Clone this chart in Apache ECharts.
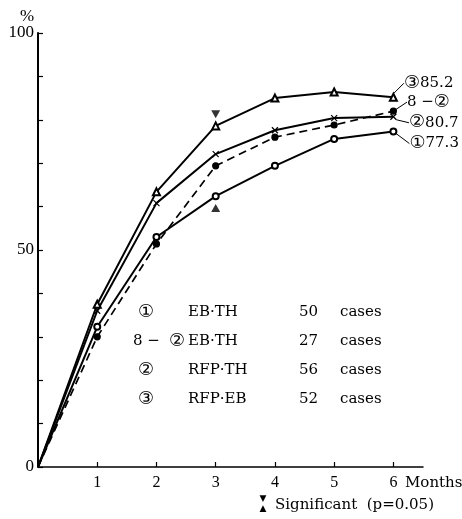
<!DOCTYPE html>
<html><head><meta charset="utf-8">
<script src="https://cdn.jsdelivr.net/npm/echarts@6/dist/echarts.min.js"></script>
<style>html,body{margin:0;padding:0;background:#fff}#c{width:462px;height:519px}</style>
</head><body><div id="c"></div>
<script>
// ---- data ----
const months = [0, 1, 2, 3, 4, 5, 6];
const rfpEB = [0, 37.5, 63.4, 78.6, 85.0, 86.4, 85.2];   // ③
const rfpTH = [0, 36.0, 60.8, 72.1, 77.6, 80.4, 80.7];   // ②
const eb8TH = [0, 30.0, 51.4, 69.4, 76.0, 78.8, 82.0];   // 8-②
const ebTH  = [0, 32.3, 53.0, 62.4, 69.4, 75.6, 77.3];   // ①
const sigAbove = [[3, 81.3]];
const sigBelow = [[3, 59.7]];
const xTickValues = [1, 2, 3, 4, 5, 6];
const yLabelValues = [0, 50, 100];
const legendMarks = ['①', '8 − ②', '②', '③'];
const legendNames = ['EB·TH', 'EB·TH', 'RFP·TH', 'RFP·EB'];
const legendCases = ['50', '27', '56', '52'];
const endMarks = ['①', '8 −②', '②', '③'];
const endValues = ['77.3', '', '80.7', '85.2'];

const SERIF = "'DejaVu Serif', 'Noto Sans CJK JP', serif";
const CIRC = "'DejaVu Serif', 'DejaVu Sans', serif";
const NUMF = "'Liberation Serif', 'DejaVu Serif', serif";

function endText(i) {
  const m = endMarks[i];
  if (m.length === 1) return '{c|' + m + '}{t|' + endValues[i] + '}';
  return '{t|8 −}{c|②}';
}

function mk(vals, idx, opts) {
  const data = months.map((m, i) => {
    if (i === 0) return { value: [m, vals[i]], symbol: 'none' };
    if (i === months.length - 1) {
      return { value: [m, vals[i]], label: { show: true, formatter: endText(idx) } };
    }
    return [m, vals[i]];
  });
  return Object.assign({
    type: 'line',
    data: data,
    symbolSize: 6,
    lineStyle: { color: '#000', width: 2 },
    itemStyle: { color: '#000', borderColor: '#000', borderWidth: 1.2 },
    label: {
      show: false, position: 'right', distance: 6, color: '#000',
      rich: {
        c: { fontFamily: CIRC, fontSize: 18, color: '#000' },
        t: { fontFamily: SERIF, fontSize: 15, color: '#000' }
      }
    },
    labelLine: { show: true, lineStyle: { color: '#000', width: 1 } },
    z: 3
  }, opts);
}

const chart = echarts.init(document.getElementById('c'));
const rows = [312, 341, 370, 399];
const graphics = [];
rows.forEach((y, i) => {
  if (i === 1) {
    graphics.push({ type: 'text', x: 133, y: y,
      style: { text: '8 −', font: '15px ' + SERIF, fill: '#000', align: 'left', verticalAlign: 'middle' } });
    graphics.push({ type: 'text', x: 177, y: y,
      style: { text: '②', font: '18px ' + CIRC, fill: '#000', align: 'center', verticalAlign: 'middle' } });
  } else {
    graphics.push({ type: 'text', x: 146, y: y,
      style: { text: legendMarks[i], font: '18px ' + CIRC, fill: '#000', align: 'center', verticalAlign: 'middle' } });
  }
  graphics.push({ type: 'text', x: 188, y: y,
    style: { text: legendNames[i], font: '15px ' + SERIF, fill: '#000', align: 'left', verticalAlign: 'middle' } });
  graphics.push({ type: 'text', x: 299, y: y,
    style: { text: legendCases[i], font: '15px ' + SERIF, fill: '#000', align: 'left', verticalAlign: 'middle' } });
  graphics.push({ type: 'text', x: 340, y: y,
    style: { text: 'cases', font: '15px ' + SERIF, fill: '#000', align: 'left', verticalAlign: 'middle' } });
});
graphics.push({ type: 'text', x: 405, y: 483,
  style: { text: 'Months', font: '15px ' + SERIF, fill: '#000', align: 'left', verticalAlign: 'middle' } });
graphics.push({ type: 'text', x: 263, y: 499,
  style: { text: '▼', font: '9px DejaVu Sans', fill: '#000', align: 'center', verticalAlign: 'middle' } });
graphics.push({ type: 'text', x: 263, y: 509,
  style: { text: '▲', font: '9px DejaVu Sans', fill: '#000', align: 'center', verticalAlign: 'middle' } });
graphics.push({ type: 'text', x: 275, y: 505,
  style: { text: 'Significant  (p=0.05)', font: '15px ' + SERIF, fill: '#000', align: 'left', verticalAlign: 'middle' } });

chart.setOption({
  animation: false,
  backgroundColor: '#fff',
  grid: { left: 38, right: 39, top: 33, bottom: 52 },
  xAxis: {
    type: 'value', min: 0, max: 6.5, interval: 1,
    axisLine: { show: true, lineStyle: { color: '#000', width: 1.5 } },
    axisTick: { show: true, inside: true, length: 5, customValues: xTickValues, lineStyle: { color: '#000', width: 1.2 } },
    axisLabel: { customValues: xTickValues, color: '#000', fontFamily: NUMF, fontSize: 16, margin: 8 },
    splitLine: { show: false }
  },
  yAxis: {
    type: 'value', min: 0, max: 100, interval: 10,
    name: '%', nameLocation: 'end', nameGap: 6,
    nameTextStyle: { color: '#000', fontFamily: NUMF, fontSize: 17, padding: [0, 22, 0, 0] },
    axisLine: { show: true, lineStyle: { color: '#000', width: 2 } },
    axisTick: { show: true, inside: true, length: 5, lineStyle: { color: '#000', width: 1.2 } },
    axisLabel: { customValues: yLabelValues, color: '#000', fontFamily: NUMF, fontSize: 17, margin: 4 },
    splitLine: { show: false }
  },
  series: [
    mk(rfpEB, 3, { name: 'RFP·EB', symbol: 'emptyTriangle', symbolSize: 7, itemStyle: { color: '#000', borderWidth: 1 }, labelLayout: { dx: 0, dy: -14 } }),
    mk(rfpTH, 2, { name: 'RFP·TH', symbol: 'path://M0,0L10,10M10,0L0,10', symbolSize: 6, labelLayout: { dx: 6, dy: 6 } }),
    mk(eb8TH, 1, { name: '8-②EB·TH', symbol: 'circle', symbolSize: 6, lineStyle: { color: '#000', width: 1.7, type: [8, 5] }, labelLayout: { dx: 4, dy: -9 } }),
    mk(ebTH, 0, { name: 'EB·TH', symbol: 'emptyCircle', symbolSize: 6, itemStyle: { color: '#000', borderWidth: 1.2 }, labelLayout: { dx: 6, dy: 12 } }),
    { type: 'scatter', data: sigAbove, symbol: 'triangle', symbolRotate: 180, symbolSize: [9, 8], itemStyle: { color: '#000' }, z: 4 },
    { type: 'scatter', data: sigBelow, symbol: 'triangle', symbolSize: [9, 8], itemStyle: { color: '#000' }, z: 4 }
  ],
  graphic: graphics
});
</script>
</body></html>
